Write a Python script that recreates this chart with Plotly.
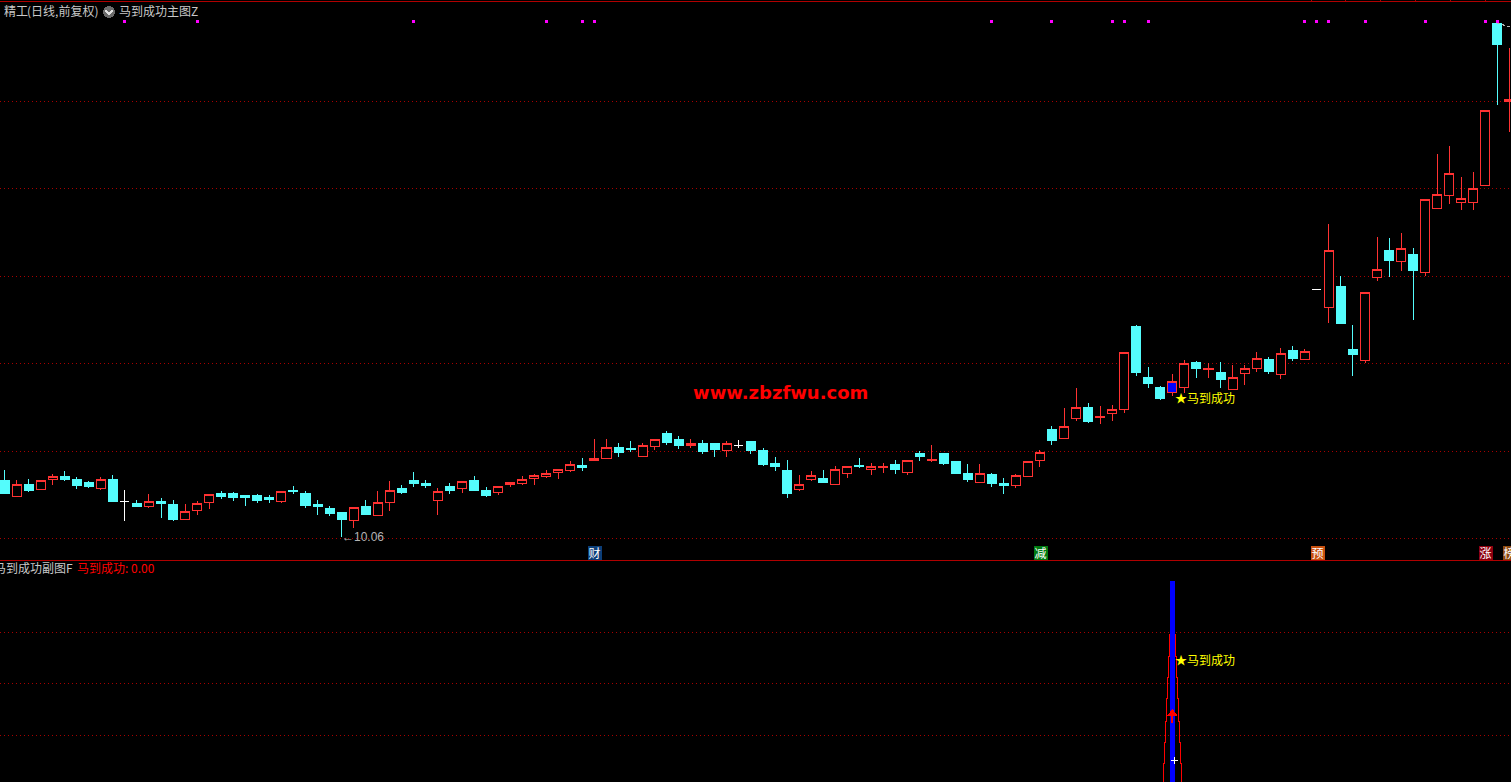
import plotly.graph_objects as go

W, H = 1511, 782

# ---- daily candles ----
opens = [
 10.63,10.47,10.59,10.54,10.64,10.67,10.64,10.61,10.55,10.64,
 10.42,10.40,10.37,10.42,10.39,10.24,10.33,10.41,10.50,10.50,
 10.48,10.48,10.46,10.42,10.53,10.50,10.39,10.35,10.31,10.23,
 10.37,10.28,10.41,10.55,10.63,10.60,10.43,10.57,10.55,10.63,
 10.53,10.51,10.59,10.60,10.65,10.67,10.71,10.73,10.78,10.83,
 10.85,10.96,10.95,10.87,10.97,11.10,11.04,10.98,11.00,11.00,
 10.93,10.98,11.02,10.93,10.80,10.73,10.54,10.64,10.65,10.59,
 10.70,10.78,10.74,10.76,10.79,10.71,10.90,10.83,10.90,10.82,
 10.70,10.61,10.69,10.60,10.58,10.67,10.83,11.14,11.05,11.25,
 11.36,11.26,11.30,11.34,12.17,11.66,11.56,11.51,11.56,11.81,
 11.74,11.71,11.54,11.70,11.75,11.84,11.69,11.93,11.84,12.54,
 12.36,12.57,11.94,11.83,12.66,12.93,12.82,12.89,12.71,13.35,
 13.48,13.41,13.41,13.58,15.20,14.42]
closes = [
 10.50,10.59,10.53,10.63,10.67,10.64,10.58,10.57,10.64,10.42,
 10.42,10.37,10.42,10.40,10.24,10.32,10.40,10.49,10.47,10.46,
 10.46,10.43,10.44,10.52,10.52,10.38,10.37,10.30,10.24,10.36,
 10.29,10.41,10.53,10.51,10.60,10.58,10.52,10.53,10.62,10.53,
 10.48,10.57,10.61,10.64,10.68,10.70,10.74,10.79,10.76,10.85,
 10.96,10.91,10.94,10.98,11.04,11.01,10.98,11.00,10.92,10.94,
 11.00,10.98,10.93,10.79,10.77,10.50,10.59,10.68,10.61,10.74,
 10.77,10.77,10.77,10.77,10.74,10.83,10.87,10.84,10.80,10.70,
 10.64,10.70,10.60,10.58,10.68,10.82,10.91,11.03,11.17,11.36,
 11.22,11.27,11.34,11.91,11.71,11.60,11.45,11.62,11.80,11.75,
 11.75,11.64,11.66,11.75,11.85,11.72,11.90,11.85,11.92,12.54,
 12.93,12.20,11.89,12.51,12.74,12.83,12.95,12.73,13.44,13.49,
 13.70,13.45,13.55,14.33,14.99,14.44]
highs = [
 10.73,10.63,10.64,10.63,10.69,10.72,10.66,10.62,10.66,10.68,
 10.53,10.43,10.49,10.45,10.43,10.39,10.42,10.49,10.52,10.51,
 10.48,10.49,10.48,10.52,10.57,10.52,10.43,10.37,10.31,10.36,
 10.43,10.52,10.62,10.58,10.71,10.63,10.55,10.60,10.62,10.67,
 10.56,10.57,10.61,10.67,10.69,10.73,10.74,10.82,10.85,11.04,
 11.04,11.00,11.02,11.00,11.04,11.12,11.07,11.04,11.03,11.00,
 11.02,11.03,11.02,10.95,10.86,10.83,10.68,10.72,10.73,10.77,
 10.77,10.85,10.80,10.80,10.83,10.83,10.92,10.98,10.90,10.82,
 10.79,10.79,10.70,10.65,10.69,10.82,10.93,11.17,11.35,11.55,
 11.40,11.37,11.38,11.91,12.18,11.76,11.57,11.69,11.83,11.82,
 11.80,11.81,11.78,11.78,11.91,11.86,11.95,11.97,11.94,12.54,
 13.19,12.67,12.18,12.51,13.06,13.05,13.10,12.95,13.44,13.89,
 13.97,13.66,13.71,14.33,15.20,14.95]
lows = [
 10.49,10.47,10.51,10.53,10.58,10.62,10.54,10.55,10.53,10.42,
 10.22,10.36,10.35,10.25,10.22,10.23,10.28,10.34,10.44,10.42,
 10.37,10.40,10.40,10.40,10.49,10.35,10.28,10.27,10.06,10.15,
 10.28,10.27,10.32,10.49,10.56,10.55,10.28,10.49,10.50,10.53,
 10.46,10.48,10.56,10.58,10.58,10.65,10.64,10.71,10.72,10.83,
 10.85,10.86,10.91,10.87,10.93,10.98,10.94,10.95,10.89,10.86,
 10.86,10.95,10.89,10.77,10.72,10.45,10.52,10.62,10.60,10.59,
 10.65,10.75,10.68,10.70,10.69,10.68,10.82,10.81,10.78,10.69,
 10.61,10.60,10.56,10.49,10.55,10.67,10.76,10.98,11.05,11.22,
 11.20,11.19,11.22,11.30,11.67,11.55,11.43,11.47,11.50,11.65,
 11.65,11.55,11.54,11.58,11.71,11.69,11.64,11.82,11.84,12.54,
 12.20,12.20,11.67,11.80,12.62,12.66,12.72,12.23,12.67,13.35,
 13.39,13.33,13.33,13.58,14.38,14.11]
white_days = [10, 61, 109]
signal_day = 97
lowest_day = 28
lowest_label = "10.06"
highest_trail_days = [124, 125]
highest_trail_prices = [15.20, 15.16]
magenta_days = [10,16,34,45,48,49,82,87,92,93,95,108,109,110,113,118,123,124]
magenta_level = 15.22
price_grid = [14.42,13.55,12.67,11.80,10.92,10.05]

# ---- lower panel ----
bar_value = 4.0
stair_levels = [2.96,2.53,2.11,1.70,1.27,0.86,0.44,0.0]
stair_halfwidths = [0.25,0.33,0.42,0.50,0.58,0.66,0.75]
arrow_head = 1.41
arrow_tail = 1.23
plus_day = 97.2
plus_value = 0.51
lower_grid = [1,2,3]

# ---- text ----
title_name = "精工"
title_period = "(日线,前复权)"
title_indicator = "马到成功主图Z"
title_sub = "马到成功副图F"
title_sub_value = "马到成功: 0.00"
watermark = "www.zbzfwu.com"
signal_text = "★马到成功"
badges = [("财",587,"#0c3e78"),("减",1033,"#007a10"),("预",1310,"#c8500f"),("涨",1478,"#8c0010"),("榜",1502,"#8c4a10")]

# ---- geometry ----
X0, STEP = 4.5, 12.04
def px2idx(p): return (p - X0) / STEP
x_range = [px2idx(0), px2idx(W)]
TOP_Y, MID_Y = 2, 560
def price_at(py): return 10 + (543 - py) / 100
def lower_at(py): return (786.5 - py) / 51.5
top_ticks = [px2idx(p) for p in (1311, 1345, 1380, 1415, 1450, 1485)]
CJK = "Noto Sans CJK SC"
GRID = "#a80000"
LINE = "#b00000"
RED = "#ff3232"
CYAN = "#54fcfc"

fig = go.Figure()

def candles(idx, fill, line):
    side = dict(fillcolor=fill, line=dict(color=line, width=1))
    return go.Candlestick(x=idx, open=[opens[i] for i in idx], high=[highs[i] for i in idx],
        low=[lows[i] for i in idx], close=[closes[i] for i in idx],
        increasing=side, decreasing=side, whiskerwidth=0, hoverinfo="skip",
        showlegend=False, xaxis="x", yaxis="y")

days = list(range(len(opens)))
special = set(white_days) | {signal_day}
ups = [i for i in days if i not in special and closes[i] > opens[i]]
downs = [i for i in days if i not in special and closes[i] <= opens[i]]
fig.add_trace(candles(ups, "#000000", RED))
fig.add_trace(candles(downs, CYAN, CYAN))
fig.add_trace(candles(white_days, "#ffffff", "#ffffff"))
fig.add_trace(candles([signal_day], "#0000ff", RED))

fig.add_trace(go.Scatter(x=magenta_days, y=[magenta_level]*len(magenta_days), mode="markers",
    marker=dict(symbol="square", size=3, color="#ff00ff", line=dict(width=0)),
    hoverinfo="skip", showlegend=False, xaxis="x", yaxis="y"))
fig.add_trace(go.Scatter(x=highest_trail_days, y=highest_trail_prices, mode="lines",
    line=dict(color="#b4b4b4", width=1, dash="3px,2px"),
    hoverinfo="skip", showlegend=False, xaxis="x", yaxis="y"))

# lower panel
fig.add_trace(go.Bar(x=[signal_day], y=[bar_value], width=5/STEP, marker=dict(color="#0000ff", line=dict(width=0)),
    hoverinfo="skip", showlegend=False, xaxis="x2", yaxis="y2"))
for sign in (1, -1):
    xs, ys = [], []
    for k, hw in enumerate(stair_halfwidths):
        xs += [signal_day + sign*hw]*2
        ys += [stair_levels[k], stair_levels[k+1]]
    fig.add_trace(go.Scatter(x=xs, y=ys, mode="lines", line=dict(color="#ff0000", width=1),
        hoverinfo="skip", showlegend=False, xaxis="x2", yaxis="y2"))
fig.add_trace(go.Scatter(x=[signal_day, signal_day], y=[arrow_head, arrow_tail], mode="lines",
    line=dict(color="#ff0000", width=2), hoverinfo="skip", showlegend=False, xaxis="x2", yaxis="y2"))
fig.add_trace(go.Scatter(x=[signal_day], y=[arrow_head], mode="markers",
    marker=dict(symbol="triangle-up", size=10, color="#ff0000", line=dict(width=0)),
    hoverinfo="skip", showlegend=False, xaxis="x2", yaxis="y2"))
fig.add_trace(go.Scatter(x=[plus_day], y=[plus_value], mode="markers",
    marker=dict(symbol="cross-thin", size=5, line=dict(color="#ffffff", width=1)),
    hoverinfo="skip", showlegend=False, xaxis="x2", yaxis="y2"))

def note(text, px, py, color="#c8c8c8", size=12, family=CJK, **kw):
    return dict(text=text, xref="paper", yref="paper", x=(px-2)/W, y=1-py/H, xanchor="left", yanchor="middle",
                showarrow=False, font=dict(color=color, size=size, family=family), **kw)

ann = [
    note(title_name, 4, 11),
    note(title_period, 27, 11),
    note(title_indicator, 119, 11),
    note(title_sub, -6, 567.5),
    note(title_sub_value, 77, 567.5, color="#ff0000"),
    note("<b>%s</b>" % watermark, 693, 392, color="#ff0000", size=18, family="DejaVu Sans"),
    dict(text=signal_text, xref="x", yref="y", x=px2idx(1173), y=price_at(397), xanchor="left", yanchor="middle",
         showarrow=False, font=dict(color="#ffff00", size=12, family=CJK)),
    dict(text=signal_text, xref="x2", yref="y2", x=px2idx(1173), y=lower_at(659), xanchor="left", yanchor="middle",
         showarrow=False, font=dict(color="#ffff00", size=12, family=CJK)),
    dict(text="←"+lowest_label, xref="x", yref="y", x=lowest_day, y=lows[lowest_day], xanchor="left", yanchor="middle",
         xshift=-2, showarrow=False, font=dict(color="#b4b4b4", size=12, family="Liberation Sans, "+CJK)),
]
for text, px, color in badges:
    ann.append(dict(text=text, xref="paper", yref="paper", x=px/W, y=1-552.5/H, xanchor="left", yanchor="middle",
                    showarrow=False, width=13, height=13, align="center", bgcolor=color, borderpad=0,
                    font=dict(color="#ffffff", size=12, family=CJK)))

shapes = [
    dict(type="line", xref="paper", yref="paper", x0=0, x1=1, y0=1-MID_Y/H, y1=1-MID_Y/H, line=dict(color=LINE, width=1)),
    dict(type="circle", xref="paper", yref="paper", x0=103/W, x1=115/W, y0=1-18/H, y1=1-6/H,
         fillcolor="#6b6b6b", line=dict(width=0)),
    dict(type="path", xref="paper", yref="paper",
         path=f"M {105.5/W} {1-10.5/H} L {109/W} {1-14/H} L {112.5/W} {1-10.5/H}",
         line=dict(color="#e0e0e0", width=1.5)),
]

fig.update_layout(
    width=W, height=H, margin=dict(l=0, r=0, t=0, b=0), autosize=False,
    paper_bgcolor="#000000", plot_bgcolor="#000000", showlegend=False,
    boxgap=0.25, boxgroupgap=0, barmode="overlay",
    annotations=ann, shapes=shapes, hovermode=False,
    xaxis=dict(domain=[0,1], range=x_range, side="top", anchor="y", rangeslider=dict(visible=False),
               showgrid=False, zeroline=False, showticklabels=False, showline=True, linecolor=LINE, linewidth=1,
               ticks="outside", ticklen=2, tickcolor=LINE, tickvals=top_ticks),
    yaxis=dict(domain=[1-MID_Y/H, 1-TOP_Y/H], range=[price_at(MID_Y), price_at(TOP_Y)], anchor="x",
               tickvals=price_grid, showticklabels=False, ticks="", gridcolor=GRID, griddash="1px,3px",
               gridwidth=1, zeroline=False, showline=False),
    xaxis2=dict(domain=[0,1], range=x_range, anchor="y2", showgrid=False, zeroline=False,
                showticklabels=False, ticks="", showline=False),
    yaxis2=dict(domain=[0, 1-(MID_Y+1)/H], range=[lower_at(H), lower_at(MID_Y+1)], anchor="x2",
                tickvals=lower_grid, showticklabels=False, ticks="", gridcolor=GRID, griddash="1px,3px",
                gridwidth=1, zeroline=False, showline=False),
)
post = ("document.documentElement.style.background='#000';"
        "document.body.style.margin='0';document.body.style.background='#000';document.body.style.overflow='hidden';"
        "document.querySelectorAll('svg.main-svg').forEach(function(s){s.style.shapeRendering='crispEdges';});")
fig.write_html("out.html", config=dict(displayModeBar=False), post_script=post)
